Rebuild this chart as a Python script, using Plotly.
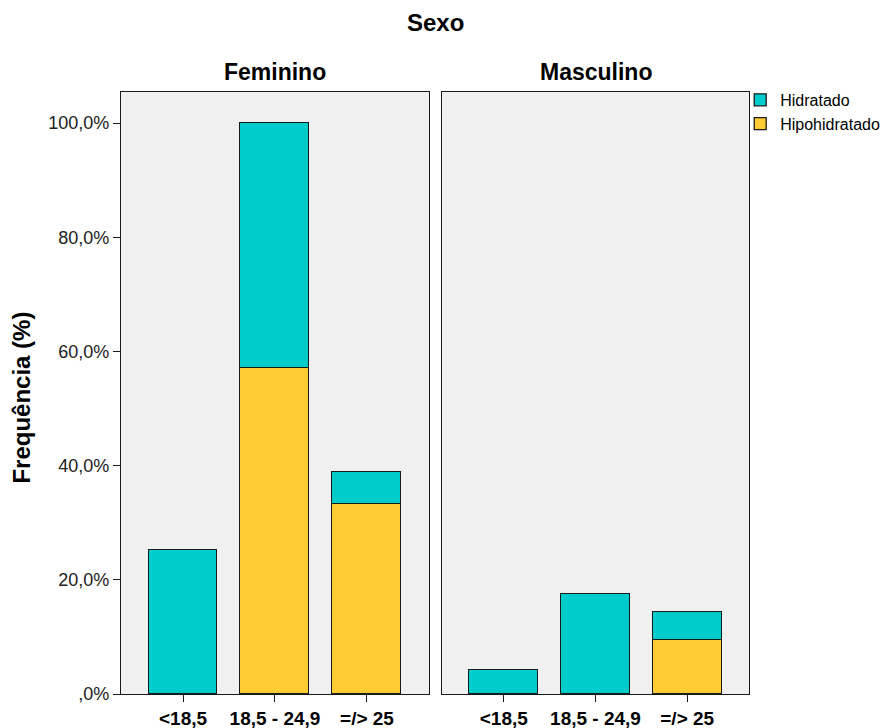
import plotly.graph_objects as go

categories = ["<18,5", "18,5 - 24,9", "=/> 25"]
fem_hipo = [None, 57.1, 33.3]
fem_hidra = [25.2, 42.9, 5.6]
masc_hipo = [None, None, 9.5]
masc_hidra = [4.2, 17.5, 4.9]
ytick_vals = [0, 20, 40, 60, 80, 100]
ytick_text = [",0%", "20,0%", "40,0%", "60,0%", "80,0%", "100,0%"]

TEAL = "#00CCCC"
YELLOW = "#FFCC33"
FONT = "Liberation Sans, Arial, sans-serif"
xpos = [0, 1, 2]

fig = go.Figure()
line = dict(color="#1a1a1a", width=1.3)
fig.add_trace(go.Bar(x=xpos, y=fem_hipo, name="Hipohidratado", marker=dict(color=YELLOW, line=line),
                     width=0.75, xaxis="x", yaxis="y", legendgroup="hipo", showlegend=True))
fig.add_trace(go.Bar(x=xpos, y=masc_hipo, name="Hipohidratado", marker=dict(color=YELLOW, line=line),
                     width=0.75, xaxis="x2", yaxis="y2", legendgroup="hipo", showlegend=False))
fig.add_trace(go.Bar(x=xpos, y=fem_hidra, name="Hidratado", marker=dict(color=TEAL, line=line),
                     width=0.75, xaxis="x", yaxis="y", legendgroup="hidra", showlegend=True))
fig.add_trace(go.Bar(x=xpos, y=masc_hidra, name="Hidratado", marker=dict(color=TEAL, line=line),
                     width=0.75, xaxis="x2", yaxis="y2", legendgroup="hidra", showlegend=False))

ymax = 100 * (694 - 92) / 571.0
xr = [-0.674, 2.674]
xcommon = dict(range=xr, tickvals=xpos, ticktext=categories, ticks="outside", ticklen=7,
               tickcolor="#1a1a1a", tickwidth=1.3, showline=True, mirror=True, linecolor="#1a1a1a",
               linewidth=1.3, showgrid=False, zeroline=False, automargin=False,
               tickfont=dict(family=FONT, size=19, color="#000", weight="bold"))
ycommon = dict(range=[0, ymax], showline=True, mirror=True, linecolor="#1a1a1a", linewidth=1.3,
               showgrid=False, zeroline=False, automargin=False)

fig.update_layout(
    width=883, height=720,
    margin=dict(l=113, r=142, t=84, b=34, autoexpand=False),
    paper_bgcolor="white", plot_bgcolor="#F0F0F0",
    barmode="stack", bargap=0,
    font=dict(family=FONT, color="#000"),
    xaxis=dict(domain=[0, 0.4904], anchor="y", **xcommon),
    xaxis2=dict(domain=[0.5111, 1], anchor="y2", **xcommon),
    yaxis=dict(anchor="x", tickvals=ytick_vals, ticktext=ytick_text, ticks="outside", ticklen=7,
               tickcolor="#1a1a1a", tickwidth=1.3,
               tickfont=dict(family=FONT, size=18, color="#222"), **ycommon),
    yaxis2=dict(anchor="x2", matches="y", showticklabels=False, ticks="", **ycommon),
    legend=dict(x=0.986, y=1.015, xanchor="left", yanchor="top", traceorder="reversed",
                font=dict(family=FONT, size=16, color="#000"), bgcolor="rgba(0,0,0,0)",
                tracegroupgap=0),
    annotations=[
        dict(text="<b>Sexo</b>", x=0.5, y=1.116, xref="paper", yref="paper", showarrow=False,
             xanchor="center", yanchor="middle", font=dict(family=FONT, size=24)),
        dict(text="<b>Feminino</b>", x=0.245, y=1.033, xref="paper", yref="paper", showarrow=False,
             xanchor="center", yanchor="middle", font=dict(family=FONT, size=23)),
        dict(text="<b>Masculino</b>", x=0.756, y=1.033, xref="paper", yref="paper", showarrow=False,
             xanchor="center", yanchor="middle", font=dict(family=FONT, size=23)),
        dict(text="<b>Frequência (%)</b>", x=-0.158, y=0.492, xref="paper", yref="paper",
             showarrow=False, textangle=-90, xanchor="center", yanchor="middle",
             font=dict(family=FONT, size=24)),
    ],
)

fig.write_html("out.html")
